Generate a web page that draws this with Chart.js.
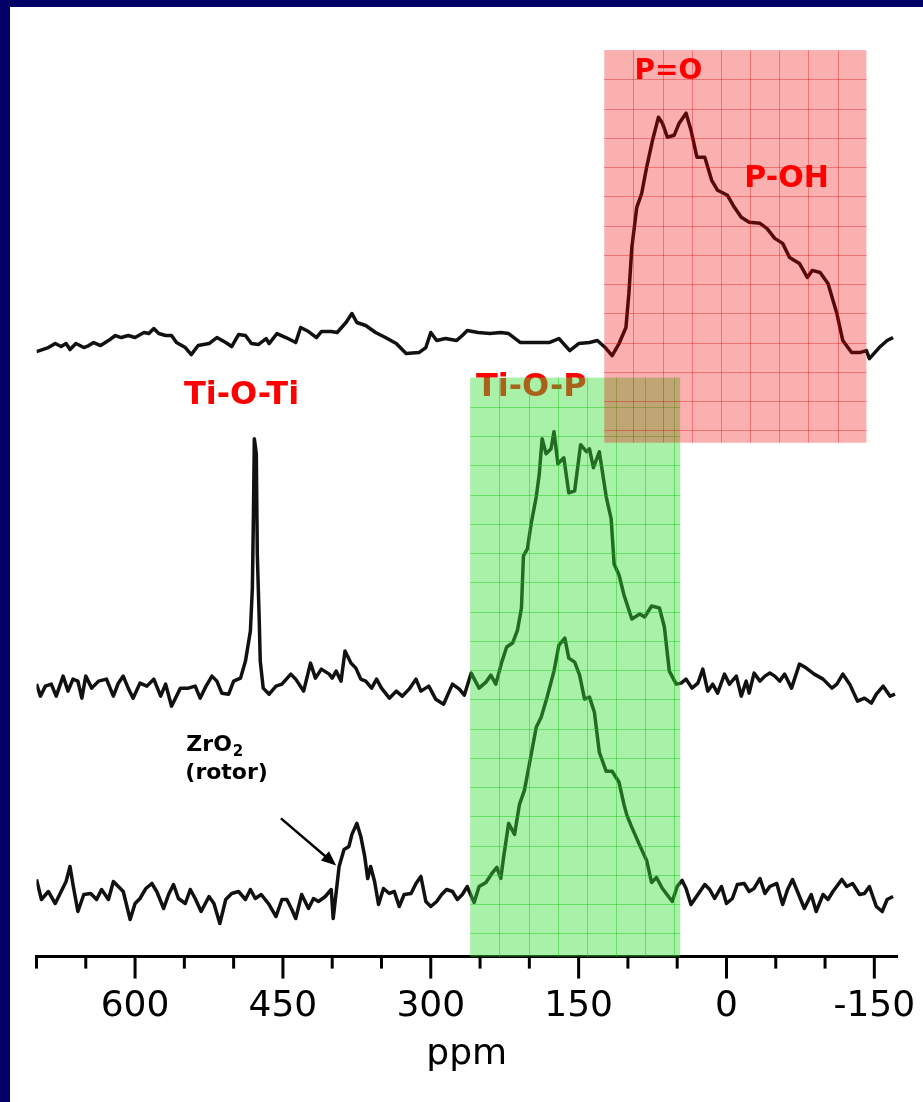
<!DOCTYPE html>
<html>
<head>
<meta charset="utf-8">
<script src="https://cdn.jsdelivr.net/npm/chart.js@4.4.1/dist/chart.umd.min.js"></script>
<style>
  body { margin: 0; background: #000066; }
  #wrap { position: absolute; left: 10px; top: 7px; width: 913px; height: 1095px; background: #fff; }
</style>
</head>
<body>
<div id="wrap"><canvas id="nmr" width="913" height="1095"></canvas></div>
<script>
// chemical shift (ppm) and intensity (height above axis)
const topPpm = [700,688,681,675,670,666,660,652,647,642,635,627,620,614,607,600,591,586,581,576,569,563,558,549,543,536,525,517,508,502,495,488,482,475,467,464,456,447,437,432,424,416,411,401,395,386,380,375,366,356,346,335,325,312,305,300,294,285,274,268,263,252,240,229,221,209,193,180,170,159,150,139,131,123,116,109,102,99,96,91,86,81,75,69,65,60,53,48,41,36,30,22,15,9,-1,-8,-15,-23,-34,-41,-49,-57,-64,-74,-82,-87,-95,-103,-112,-118,-127,-135,-142,-145,-155,-163,-169];
const topInt = [604,608,612,609,612,606,612,608,610,613,610,615,620,618,620,618,623,622,627,622,620,620,613,608,601,610,612,618,613,609,621,620,612,611,617,612,622,618,613,628,624,618,624,624,623,633,642,633,630,623,618,612,602,603,608,623,615,617,615,620,625,623,622,623,622,613,613,613,617,605,612,613,615,608,600,612,628,662,708,748,762,788,815,838,832,818,820,832,842,825,798,798,775,765,760,748,738,733,732,727,717,712,698,692,678,685,683,672,642,615,603,603,605,597,608,615,618];

const midPpm = [700,696,691,685,680,673,668,663,658,654,650,644,637,629,622,617,612,607,602,595,588,581,574,569,563,554,546,539,534,528,522,517,512,505,500,493,488,483,481,480,479,477,476,474,473,470,464,457,451,442,437,429,422,417,411,403,400,396,391,387,381,376,371,366,360,355,350,342,335,329,322,315,310,302,295,287,278,271,266,259,251,244,239,234,228,223,217,212,208,206,202,198,193,190,187,183,178,175,171,165,160,154,148,142,139,135,129,122,117,114,109,104,96,88,83,76,68,63,58,51,46,41,35,29,24,19,14,9,2,-3,-10,-15,-20,-23,-28,-34,-39,-44,-49,-54,-59,-66,-74,-81,-89,-98,-107,-112,-118,-125,-133,-140,-147,-152,-159,-166,-171];
const midInt = [272,260,270,272,260,280,265,277,275,258,280,268,275,277,260,273,280,268,258,273,270,277,260,272,250,268,268,270,258,270,280,275,263,262,275,278,295,325,368,435,517,502,402,335,295,268,262,270,272,282,277,265,293,278,287,282,278,285,275,305,293,288,277,275,268,277,268,258,265,260,267,277,265,270,257,252,272,267,261,283,268,274,281,272,294,309,313,326,348,400,407,433,459,481,517,502,507,524,492,498,463,465,511,504,507,488,504,459,437,392,381,361,337,342,339,350,348,329,285,272,273,277,268,273,287,265,272,263,282,272,280,260,275,263,283,275,280,283,280,275,282,268,292,288,282,277,268,272,282,272,255,258,253,262,270,260,262];

const lowPpm = [700,695,688,681,675,670,666,663,658,652,645,639,634,627,622,617,612,605,600,595,589,583,578,571,566,561,556,549,544,539,533,525,520,514,508,502,495,488,483,478,472,464,457,451,446,441,437,431,424,419,414,407,401,399,393,388,383,380,375,371,367,364,361,357,353,348,342,337,332,327,320,315,310,305,300,294,289,284,278,273,268,263,261,256,251,244,238,233,229,226,221,215,210,205,200,193,188,182,175,170,164,160,154,149,144,139,134,129,122,116,109,104,101,96,88,81,76,71,65,55,50,45,41,36,29,22,17,12,5,0,-6,-11,-18,-23,-28,-34,-39,-44,-51,-57,-62,-67,-72,-79,-86,-91,-98,-103,-108,-117,-122,-128,-135,-140,-145,-152,-158,-163,-169];
const lowInt = [77,57,65,53,65,75,90,72,45,62,63,57,67,57,75,70,65,37,53,58,68,73,65,48,62,72,58,53,67,58,45,60,53,33,57,63,65,57,67,58,62,52,40,57,57,47,38,62,48,58,55,60,67,38,90,107,110,122,133,120,100,78,90,75,52,68,63,65,50,62,63,73,80,55,50,55,62,67,65,57,62,70,65,54,70,74,83,89,78,100,133,122,152,166,192,229,239,259,285,311,318,298,294,281,257,259,244,204,185,185,174,152,141,129,111,96,74,79,68,55,70,76,68,52,62,72,67,58,70,53,58,72,73,65,68,78,63,70,73,52,67,77,65,48,62,45,62,57,65,77,70,73,62,63,70,50,45,57,60];

const tickPpm = [700,650,600,550,500,450,400,350,300,250,200,150,100,50,0,-50,-100,-150];
const majorPpm = [600,450,300,150,0,-150];

// shaded regions: [ppm from, ppm to, top, bottom]
const redBox = [124, -142, 905, 513];
const greenBox = [260, 47, 578, 0];

const noteText = ['P=O', 'P-OH', 'Ti-O-Ti'];
const notePpm = [59, -61, 492];
const noteInt = [883, 776, 560];

const toPoints = (xs, ys) => xs.map((v, i) => ({ x: v, y: ys[i] }));

const trace = (label, xs, ys) => ({
    label,
    data: toPoints(xs, ys),
    borderColor: '#111',
    borderWidth: 3.5,
    pointRadius: 0,
    tension: 0,
    borderJoinStyle: 'round',
    fill: false
});

function drawBox(ctx, x, y, box, fill, line) {
    const l = x.getPixelForValue(box[0]), r = x.getPixelForValue(box[1]);
    const t = y.getPixelForValue(box[2]), b = y.getPixelForValue(box[3]);
    ctx.fillStyle = fill;
    ctx.fillRect(l, t, r - l, b - t);
    ctx.strokeStyle = line;
    ctx.lineWidth = 1;
    ctx.beginPath();
    for (let p = box[0] - 29.6; p > box[1] + 2; p -= 29.6) {
        const px = Math.round(x.getPixelForValue(p)) + 0.5;
        ctx.moveTo(px, t); ctx.lineTo(px, b);
    }
    for (let v = box[2] - 29.2; v > box[3] + 2; v -= 29.2) {
        const py = Math.round(y.getPixelForValue(v)) + 0.5;
        ctx.moveTo(l, py); ctx.lineTo(r, py);
    }
    ctx.stroke();
}

const overlays = {
    id: 'overlays',
    afterDatasetsDraw(chart) {
        const { ctx, scales: { x, y } } = chart;
        ctx.save();
        ctx.textAlign = 'center';
        ctx.textBaseline = 'middle';
        ctx.font = 'bold 32px "DejaVu Sans"';
        ctx.fillStyle = '#ff0000';
        ctx.fillText('Ti-O-P', x.getPixelForValue(198), y.getPixelForValue(568));

        drawBox(ctx, x, y, greenBox, 'rgba(59,222,59,0.44)', 'rgba(20,200,20,0.45)');
        drawBox(ctx, x, y, redBox, 'rgba(242,0,0,0.31)', 'rgba(220,0,0,0.35)');

        ctx.fillStyle = '#ff0000';
        noteText.forEach((t, i) => {
            ctx.font = (i === 0 ? 'bold 28px' : i === 1 ? 'bold 30px' : 'bold 32px') + ' "DejaVu Sans"';
            ctx.fillText(t, x.getPixelForValue(notePpm[i]), y.getPixelForValue(noteInt[i]));
        });

        // ZrO2 (rotor) with arrow
        ctx.fillStyle = '#000';
        ctx.textAlign = 'left';
        ctx.textBaseline = 'alphabetic';
        ctx.font = 'bold 22px "DejaVu Sans"';
        const zx = x.getPixelForValue(548), zy = y.getPixelForValue(205);
        ctx.fillText('ZrO', zx, zy);
        const w = ctx.measureText('ZrO').width;
        ctx.font = 'bold 15px "DejaVu Sans"';
        ctx.fillText('2', zx + w + 1, zy + 5);
        ctx.font = 'bold 22px "DejaVu Sans"';
        ctx.fillText('(rotor)', x.getPixelForValue(549), y.getPixelForValue(177));

        const ax = x.getPixelForValue(452), ay = y.getPixelForValue(138);
        const bx = x.getPixelForValue(396), by = y.getPixelForValue(91);
        const ang = Math.atan2(by - ay, bx - ax);
        ctx.strokeStyle = '#000';
        ctx.lineWidth = 2.5;
        ctx.beginPath();
        ctx.moveTo(ax, ay);
        ctx.lineTo(bx - 10 * Math.cos(ang), by - 10 * Math.sin(ang));
        ctx.stroke();
        ctx.beginPath();
        ctx.moveTo(bx, by);
        ctx.lineTo(bx - 16 * Math.cos(ang - 0.4), by - 16 * Math.sin(ang - 0.4));
        ctx.lineTo(bx - 16 * Math.cos(ang + 0.4), by - 16 * Math.sin(ang + 0.4));
        ctx.closePath();
        ctx.fill();
        ctx.restore();
    },
    afterDraw(chart) {
        const { ctx, scales: { x }, chartArea } = chart;
        ctx.save();
        ctx.strokeStyle = '#000';
        ctx.lineWidth = 3;
        tickPpm.forEach(v => {
            const px = x.getPixelForValue(v);
            const len = majorPpm.includes(v) ? 22 : 12;
            ctx.beginPath();
            ctx.moveTo(px, chartArea.bottom);
            ctx.lineTo(px, chartArea.bottom + len);
            ctx.stroke();
        });
        ctx.restore();
    }
};

new Chart(document.getElementById('nmr'), {
    type: 'line',
    data: {
        datasets: [
            trace('top', topPpm, topInt),
            trace('middle', midPpm, midInt),
            trace('bottom', lowPpm, lowInt)
        ]
    },
    options: {
        responsive: false,
        animation: false,
        layout: { padding: { left: 26.5, right: 26, top: 13, bottom: 26 } },
        plugins: { legend: { display: false }, tooltip: { enabled: false } },
        scales: {
            x: {
                type: 'linear',
                reverse: true,
                min: -173,
                max: 700,
                afterBuildTicks: s => { s.ticks = tickPpm.map(v => ({ value: v })); },
                ticks: {
                    autoSkip: false,
                    maxRotation: 0,
                    padding: 0,
                    color: '#000',
                    font: { family: 'DejaVu Sans', size: 36 },
                    callback: v => majorPpm.includes(v) ? String(v) : ''
                },
                grid: { display: true, drawOnChartArea: false, drawTicks: true, tickLength: 28, color: 'rgba(0,0,0,0)' },
                border: { display: true, color: '#000', width: 3 },
                title: {
                    display: true,
                    text: 'ppm',
                    color: '#000',
                    font: { family: 'DejaVu Sans', size: 36 },
                    padding: { top: 5, bottom: 0 }
                }
            },
            y: { display: false, min: 0, max: 935 }
        }
    },
    plugins: [overlays]
});
</script>
</body>
</html>
